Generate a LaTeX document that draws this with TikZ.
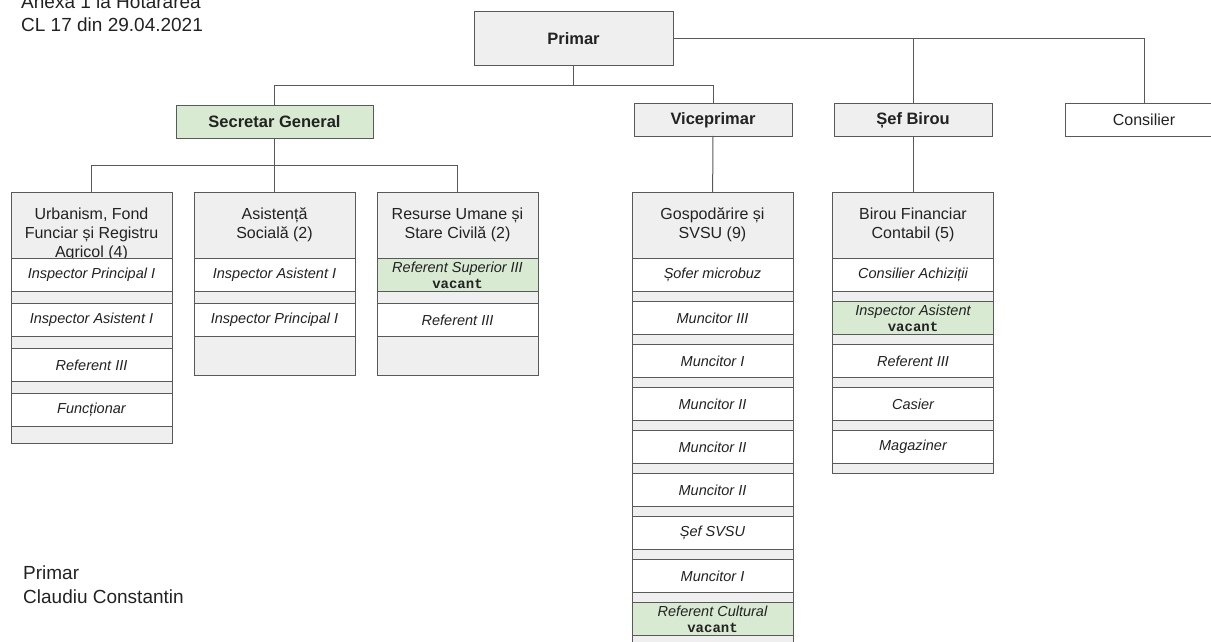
\documentclass[tikz,border=0pt]{standalone}
\usepackage{fontspec}
\setmainfont{Liberation Sans}
\newfontfamily\vacfont{Liberation Mono}
\usetikzlibrary{positioning}

\definecolor{boxgrey}{HTML}{EFEFEF}
\definecolor{boxgreen}{HTML}{D9EAD3}
\definecolor{edgegrey}{HTML}{595959}
\definecolor{txt}{HTML}{222222}

\newcommand{\vac}{\\[0pt]{\vacfont\upshape\bfseries\fontsize{14}{16}\selectfont vacant}}

\begin{document}
\begin{tikzpicture}[x=1pt,y=-1pt,node distance=0pt,
	top node/.style={rectangle,draw=edgegrey,line width=1pt,fill=boxgrey,minimum width=158pt,minimum height=32pt,inner sep=0pt,outer sep=0pt,font=\fontsize{16.5}{19}\selectfont\bfseries,text=txt},
	col node/.style={rectangle,draw=edgegrey,line width=1pt,fill=boxgrey,minimum width=161pt,minimum height=66pt,inner sep=0pt,outer sep=0pt,anchor=north},
	col text/.style={align=center,inner sep=0pt,font=\fontsize{16}{19}\selectfont,text=txt},
	post node/.style={rectangle,draw=edgegrey,line width=1pt,fill=white,minimum width=161pt,minimum height=33pt,inner sep=0pt,outer sep=0pt,align=center,font=\fontsize{14.5}{16}\selectfont\itshape,text=txt},
	gap node/.style={rectangle,draw=edgegrey,line width=1pt,fill=boxgrey,minimum width=161pt,minimum height=12pt,inner sep=0pt,outer sep=0pt},
	vacant/.style={fill=boxgreen},
	note/.style={anchor=base west,inner sep=0pt,font=\fontsize{19}{23}\selectfont,text=txt},
	conn/.style={draw=edgegrey,line width=1pt}]

	\useasboundingbox (0,0) rectangle (1211,642);

	% notes
	\node[note] (anexa) at (21,9) {Anexa 1 la Hotărârea};
	\node[note] (cl) at (21,32) {CL 17 din 29.04.2021};
	\node[note] (semn) at (23,579) {Primar};
	\node[note] (nume) at (23,603) {Claudiu Constantin};

	% top levels
	\node[top node,minimum width=199pt,minimum height=54pt] (primar) at (573.5,39) {Primar};
	\node[top node,minimum width=197pt,fill=boxgreen] (secgen) at (274.5,122) {Secretar General};
	\node[top node] (vice) at (713,120) {Viceprimar};
	\node[top node] (sefb) at (913,120) {Șef Birou};
	\node[top node,fill=white,font=\fontsize{16}{19}\selectfont] (cons) at (1144,120) {Consilier};

	% urbanism
	\node[col node] (urb) at (91.5,192.5) {};
	\node[col text,below=15pt of urb.north] (urbt) {Urbanism, Fond\\Funciar și Registru\\Agricol (4)};
	\node[post node,below=of urb] (urb1) {Inspector Principal I};
	\node[gap node,below=of urb1] (urbg1) {};
	\node[post node,below=of urbg1] (urb2) {Inspector Asistent I};
	\node[gap node,below=of urb2] (urbg2) {};
	\node[post node,below=of urbg2] (urb3) {Referent III};
	\node[gap node,below=of urb3] (urbg3) {};
	\node[post node,below=of urbg3] (urb4) {Funcționar};
	\node[gap node,minimum height=17pt,below=of urb4] (urbg4) {};

	% asistenta
	\node[col node] (asi) at (274.5,192.5) {};
	\node[col text,below=15pt of asi.north] (asit) {Asistență\\Socială (2)};
	\node[post node,below=of asi] (asi1) {Inspector Asistent I};
	\node[gap node,below=of asi1] (asig1) {};
	\node[post node,below=of asig1] (asi2) {Inspector Principal I};
	\node[gap node,minimum height=39pt,below=of asi2] (asig2) {};

	% resurse umane
	\node[col node] (res) at (457.5,192.5) {};
	\node[col text,below=15pt of res.north] (rest) {Resurse Umane și\\Stare Civilă (2)};
	\node[post node,vacant,below=of res] (res1) {Referent Superior III\vac};
	\node[gap node,below=of res1] (resg1) {};
	\node[post node,below=of resg1] (res2) {Referent III};
	\node[gap node,minimum height=39pt,below=of res2] (resg2) {};

	% gospodarire
	\node[col node] (gosp) at (712.5,192.5) {};
	\node[col text,below=15pt of gosp.north] (gospt) {Gospodărire și\\SVSU (9)};
	\node[post node,below=of gosp] (gosp1) {Șofer microbuz};
	\node[gap node,minimum height=10pt,below=of gosp1] (gospg1) {};
	\node[post node,below=of gospg1] (gosp2) {Muncitor III};
	\node[gap node,minimum height=10pt,below=of gosp2] (gospg2) {};
	\node[post node,below=of gospg2] (gosp3) {Muncitor I};
	\node[gap node,minimum height=10pt,below=of gosp3] (gospg3) {};
	\node[post node,below=of gospg3] (gosp4) {Muncitor II};
	\node[gap node,minimum height=10pt,below=of gosp4] (gospg4) {};
	\node[post node,below=of gospg4] (gosp5) {Muncitor II};
	\node[gap node,minimum height=10pt,below=of gosp5] (gospg5) {};
	\node[post node,below=of gospg5] (gosp6) {Muncitor II};
	\node[gap node,minimum height=10pt,below=of gosp6] (gospg6) {};
	\node[post node,below=of gospg6] (gosp7) {Șef SVSU};
	\node[gap node,minimum height=10pt,below=of gosp7] (gospg7) {};
	\node[post node,below=of gospg7] (gosp8) {Muncitor I};
	\node[gap node,minimum height=10pt,below=of gosp8] (gospg8) {};
	\node[post node,vacant,below=of gospg8] (gosp9) {Referent Cultural\vac};
	\node[gap node,minimum height=10pt,below=of gosp9] (gospg9) {};

	% birou financiar
	\node[col node] (bir) at (913,192.5) {};
	\node[col text,below=15pt of bir.north] (birt) {Birou Financiar\\Contabil (5)};
	\node[post node,below=of bir] (bir1) {Consilier Achiziții};
	\node[gap node,minimum height=10pt,below=of bir1] (birg1) {};
	\node[post node,vacant,below=of birg1] (bir2) {Inspector Asistent\vac};
	\node[gap node,minimum height=10pt,below=of bir2] (birg2) {};
	\node[post node,below=of birg2] (bir3) {Referent III};
	\node[gap node,minimum height=10pt,below=of bir3] (birg3) {};
	\node[post node,below=of birg3] (bir4) {Casier};
	\node[gap node,minimum height=10pt,below=of bir4] (birg4) {};
	\node[post node,below=of birg4] (bir5) {Magaziner};
	\node[gap node,minimum height=10pt,below=of bir5] (birg5) {};

	% connectors
	\coordinate (pj) at (573.5,86);
	\coordinate (sj) at (274.5,165);
	\draw[conn] (primar) -- (pj) -| (secgen);
	\draw[conn] (pj) -| (vice);
	\draw[conn] (primar.east) -| (sefb);
	\draw[conn] (primar.east) -| (cons);
	\draw[conn] (secgen) -- (asi);
	\draw[conn] (sj) -| (urb);
	\draw[conn] (sj) -| (res);
	\draw[conn] (vice) -- (gosp);
	\draw[conn] (sefb) -- (bir);
\end{tikzpicture}
\end{document}
